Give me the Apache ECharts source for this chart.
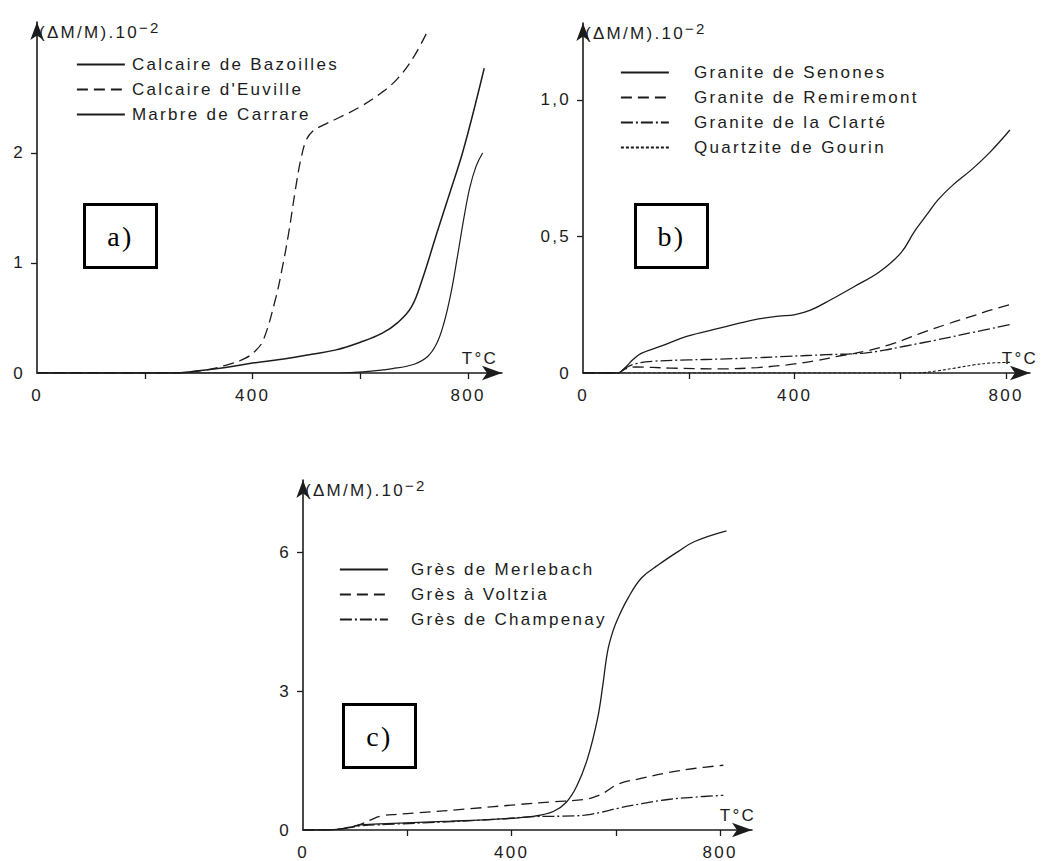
<!DOCTYPE html>
<html>
<head>
<meta charset="utf-8">
<script src="https://cdn.jsdelivr.net/npm/echarts@6/dist/echarts.min.js"></script>
<style>
  html, body { margin: 0; padding: 0; background: #fff; }
  #chart { width: 1047px; height: 861px; }
  #chart svg text { letter-spacing: 2.3px; }
</style>
</head>
<body>
<div id="chart"></div>
<script>
// ---- a) limestones and marble : [T °C, ΔM/M ·10^-2]
const namesA = ['Calcaire de Bazoilles', "Calcaire d'Euville", 'Marbre de Carrare'];
const bazoilles = [[0,0],[250,0],[300,0.02],[350,0.05],[400,0.09],[461,0.13],[510,0.17],[555,0.21],[600,0.28],[640,0.36],[670,0.46],[695,0.6],[715,0.85],[742,1.27],[767,1.65],[792,2.04],[830,2.77]];
const euville = [[0,0],[250,0],[305,0.02],[350,0.07],[385,0.13],[405,0.2],[420,0.3],[442,0.66],[455,0.95],[467,1.27],[480,1.68],[490,1.95],[500,2.12],[512,2.2],[530,2.25],[560,2.32],[600,2.42],[640,2.55],[670,2.68],[700,2.88],[727,3.13]];
const carrare = [[0,0],[560,0],[605,0.01],[660,0.04],[700,0.08],[725,0.15],[742,0.27],[755,0.45],[768,0.72],[780,1.05],[792,1.4],[803,1.68],[815,1.88],[827,2.0]];

// ---- b) granites and quartzite
const namesB = ['Granite de Senones', 'Granite de Remiremont', 'Granite de la Clarté', 'Quartzite de Gourin'];
const senones = [[0,0],[66,0],[80,0.02],[95,0.05],[110,0.072],[150,0.1],[196,0.134],[260,0.165],[323,0.195],[370,0.208],[399,0.213],[430,0.23],[470,0.27],[513,0.317],[560,0.37],[601,0.44],[627,0.52],[650,0.58],[671,0.634],[700,0.69],[734,0.744],[770,0.81],[807,0.89]];
const remiremont = [[0,0],[65,0],[80,0.015],[100,0.022],[165,0.018],[259,0.015],[330,0.02],[386,0.03],[440,0.045],[481,0.061],[532,0.079],[590,0.11],[639,0.146],[690,0.18],[734,0.207],[770,0.23],[807,0.25]];
const clarte = [[0,0],[65,0],[80,0.018],[100,0.034],[133,0.043],[200,0.048],[259,0.051],[330,0.056],[386,0.061],[460,0.067],[532,0.073],[570,0.084],[608,0.098],[671,0.122],[740,0.15],[807,0.177]];
const gourin = [[0,0],[630,0],[670,0.008],[703,0.018],[740,0.03],[766,0.036],[807,0.039]];

// ---- c) sandstones
const namesC = ['Grès de Merlebach', 'Grès à Voltzia', 'Grès de Champenay'];
const merlebach = [[0,0],[59,0.01],[90,0.06],[110,0.11],[160,0.14],[283,0.19],[380,0.24],[444,0.3],[480,0.4],[505,0.6],[525,0.95],[546,1.56],[565,2.42],[575,3.14],[584,3.86],[594,4.29],[604,4.58],[623,5.01],[649,5.45],[681,5.73],[719,6.02],[751,6.24],[812,6.47]];
const voltzia = [[0,0],[59,0.01],[90,0.06],[110,0.12],[130,0.22],[149,0.3],[180,0.34],[219,0.37],[320,0.46],[412,0.55],[480,0.61],[540,0.66],[560,0.72],[578,0.81],[604,0.99],[650,1.12],[700,1.24],[750,1.33],[806,1.4]];
const champenay = [[0,0],[59,0.007],[90,0.05],[110,0.09],[160,0.12],[283,0.18],[380,0.24],[444,0.29],[500,0.3],[540,0.32],[570,0.38],[604,0.47],[650,0.57],[700,0.66],[750,0.71],[806,0.75]];

// ---- tick values and titles
const xTickValues = [200, 400, 600, 800];
const xLabelValues = [0, 400, 800];
const yTicksA = [1, 2], yLabelsA = [0, 1, 2];
const yTicksB = [0.5, 1.0], yLabelsB = [0, 0.5, 1.0];
const yTicksC = [3, 6], yLabelsC = [0, 3, 6];
const panelTags = ['a)', 'b)', 'c)'];
const yTitle = '(ΔM/M).10{sup|−2}';
const xTitle = 'T°C';

const INK = '#1c1c1c';
const FONT = '"Liberation Sans", Arial, sans-serif';
const SPACING = 2.3;   // matches the letter-spacing rule above

function xAxis(gridIndex, max, gap) {
  return {
    type: 'value', gridIndex, min: 0, max,
    axisLine: { show: true, symbol: ['none', 'arrow'], symbolSize: [11, 20], lineStyle: { color: INK, width: 1.6 } },
    axisTick: { show: true, customValues: xTickValues, length: 6, lineStyle: { color: INK, width: 1.3 } },
    axisLabel: { customValues: xLabelValues, margin: 14, color: INK, fontSize: 17, fontFamily: FONT },
    splitLine: { show: false },
    name: xTitle, nameLocation: 'end', nameGap: gap,
    nameTextStyle: { color: INK, fontSize: 17, fontFamily: FONT, align: 'center', verticalAlign: 'bottom', padding: [0, 0, 6, 0] }
  };
}

function yAxis(gridIndex, max, ticks, labels, fmt) {
  return {
    type: 'value', gridIndex, min: 0, max,
    axisLine: { show: true, symbol: ['none', 'arrow'], symbolSize: [10, 18], lineStyle: { color: INK, width: 1.6 } },
    axisTick: { show: true, customValues: ticks, length: 6, lineStyle: { color: INK, width: 1.3 } },
    axisLabel: { customValues: labels, margin: 12, color: INK, fontSize: 17, fontFamily: FONT, formatter: fmt },
    splitLine: { show: false },
    name: yTitle, nameLocation: 'end', nameGap: -10,
    nameTextStyle: {
      color: INK, fontSize: 17, fontFamily: FONT, align: 'left', verticalAlign: 'middle', padding: [0, 0, 0, 2],
      rich: {
        // the spaced "(ΔM/M).10" is 9 glyphs wider than measured, so the exponent is shifted by that much
        sup: { fontSize: 15, fontFamily: FONT, color: INK, verticalAlign: 'top', padding: [0, 0, 9, 9 * SPACING] }
      }
    }
  };
}

function curve(name, data, xi, dash, width) {
  return {
    type: 'line', name, data, xAxisIndex: xi, yAxisIndex: xi,
    smooth: 0.4, symbol: 'none', color: INK,
    lineStyle: { color: INK, width: width || 1.3, type: dash || 'solid' }
  };
}

function legend(names, left, top, gap) {
  return {
    data: names, orient: 'vertical', left, top, selectedMode: false, padding: 0,
    itemWidth: 48, itemHeight: 10, itemGap: 0,
    itemStyle: { opacity: 0 },
    lineStyle: { width: 1.8 },
    textStyle: { color: INK, fontSize: 17, fontFamily: FONT, lineHeight: 25, padding: [0, 0, 0, gap] }
  };
}

function tagBox(label, x, y) {
  return {
    type: 'group', left: x, top: y,
    children: [
      { type: 'rect', shape: { x: 0, y: 0, width: 72, height: 63 }, style: { fill: '#fff', stroke: '#000', lineWidth: 3 } },
      { type: 'text', x: 36, y: 32, style: { text: label, font: '28px "Liberation Serif", "Times New Roman", serif', fill: '#000', align: 'center', verticalAlign: 'middle' } }
    ]
  };
}

const dashed = [11, 6];
const dashDot = [12, 3, 2, 3];
const dotted = [3, 2];

const option = {
  backgroundColor: '#fff',
  animation: false,
  grid: [
    { left: 37, top: 22, width: 465, height: 351 },
    { left: 583, top: 23, width: 447, height: 350 },
    { left: 303, top: 480, width: 449, height: 352 }
  ],
  xAxis: [xAxis(0, 863, -22), xAxis(1, 845, -10), xAxis(2, 861, -14)],
  yAxis: [
    yAxis(0, 3.19, yTicksA, yLabelsA, v => String(v)),
    yAxis(1, 1.282, yTicksB, yLabelsB, v => v === 0 ? '0' : v.toFixed(1).replace('.', ',')),
    yAxis(2, 7.57, yTicksC, yLabelsC, v => String(v))
  ],
  legend: [
    legend(namesA, 76, 52, 2),
    legend(namesB, 620, 60, 20),
    legend(namesC, 339, 557, 18)
  ],
  series: [
    curve(namesA[0], bazoilles, 0, 'solid', 1.5),
    curve(namesA[1], euville, 0, dashed, 1.3),
    curve(namesA[2], carrare, 0, 'solid', 1.2),
    curve(namesB[0], senones, 1, 'solid', 1.3),
    curve(namesB[1], remiremont, 1, dashed, 1.3),
    curve(namesB[2], clarte, 1, dashDot, 1.3),
    curve(namesB[3], gourin, 1, dotted, 1.1),
    curve(namesC[0], merlebach, 2, 'solid', 1.3),
    curve(namesC[1], voltzia, 2, dashed, 1.3),
    curve(namesC[2], champenay, 2, dashDot, 1.3)
  ],
  graphic: [
    tagBox(panelTags[0], 83, 203),
    tagBox(panelTags[1], 634, 203),
    tagBox(panelTags[2], 342, 703)
  ]
};

const chart = echarts.init(document.getElementById('chart'), null, { renderer: 'svg' });
chart.setOption(option);
</script>
</body>
</html>
